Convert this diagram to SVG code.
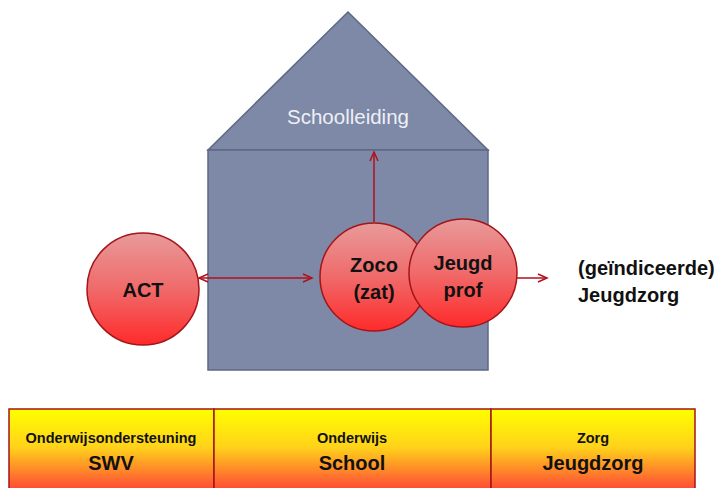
<svg xmlns="http://www.w3.org/2000/svg" width="721" height="488" viewBox="0 0 721 488">
<defs>
<linearGradient id="gc" x1="0" y1="0" x2="0" y2="1">
<stop offset="0" stop-color="#e89a9a"/>
<stop offset="0.5" stop-color="#f06a6a"/>
<stop offset="1" stop-color="#ff2a2a"/>
</linearGradient>
<linearGradient id="gb" x1="0" y1="0" x2="0" y2="1">
<stop offset="0" stop-color="#ffff00"/>
<stop offset="0.45" stop-color="#ffd21a"/>
<stop offset="1" stop-color="#ff3a3a"/>
</linearGradient>
<marker id="ah" markerWidth="12" markerHeight="12" refX="10" refY="5" orient="auto-start-reverse" markerUnits="userSpaceOnUse">
<path d="M1,1 L10,5 L1,9" fill="none" stroke="#b0121b" stroke-width="1.5"/>
</marker>
<style>
.house{fill:#7d89a6;stroke:#5d6884;stroke-width:1.5}
.circ{fill:url(#gc);stroke:#a3151b;stroke-width:1.5}
.ct{font-family:"Liberation Sans",Arial,sans-serif;font-weight:bold;font-size:20px;fill:#111;text-anchor:middle}
.conn{stroke:#b0121b;stroke-width:1.5;fill:none}
.bar{fill:url(#gb);stroke:#a3151b;stroke-width:1.5}
.bs{font-family:"Liberation Sans",Arial,sans-serif;font-weight:bold;font-size:14.5px;fill:#111;text-anchor:middle}
.bl{font-family:"Liberation Sans",Arial,sans-serif;font-weight:bold;font-size:20px;fill:#111;text-anchor:middle}
.side{font-family:"Liberation Sans",Arial,sans-serif;font-weight:bold;font-size:20px;fill:#111}
</style>
</defs>
<g id="house">
<polygon class="house" points="348,12 488,150 208,150"/>
<rect class="house" x="208" y="150" width="280" height="220"/>
<text x="348" y="124" font-family="'Liberation Sans',Arial,sans-serif" font-size="20.5" fill="#eef0f6" text-anchor="middle">Schoolleiding</text>
</g>
<g id="connectors">
<line class="conn" x1="199" y1="278" x2="312" y2="278" marker-start="url(#ah)" marker-end="url(#ah)"/>
<line class="conn" x1="374" y1="222" x2="374" y2="152" marker-end="url(#ah)"/>
<line class="conn" x1="517" y1="278" x2="547" y2="278" marker-end="url(#ah)"/>
</g>
<g id="act">
<circle class="circ" cx="143" cy="289" r="56"/>
<text class="ct" x="143" y="297">ACT</text>
</g>
<g id="zoco">
<circle class="circ" cx="374" cy="277" r="54"/>
<text class="ct" x="374" y="272">Zoco</text>
<text class="ct" x="374" y="299">(zat)</text>
</g>
<g id="jeugdprof">
<circle class="circ" cx="463" cy="273" r="54"/>
<text class="ct" x="463" y="270">Jeugd</text>
<text class="ct" x="463" y="297">prof</text>
</g>
<g id="jeugdzorg-label">
<text class="side" x="578" y="275">(geïndiceerde)</text>
<text class="side" x="578" y="302">Jeugdzorg</text>
</g>
<g id="bar-swv">
<rect class="bar" x="9" y="409" width="205" height="85"/>
<text class="bs" x="111" y="443">Onderwijsondersteuning</text>
<text class="bl" x="111" y="470">SWV</text>
</g>
<g id="bar-school">
<rect class="bar" x="214" y="409" width="277" height="85"/>
<text class="bs" x="352" y="443">Onderwijs</text>
<text class="bl" x="352" y="470">School</text>
</g>
<g id="bar-zorg">
<rect class="bar" x="491" y="409" width="204" height="85"/>
<text class="bs" x="593" y="443">Zorg</text>
<text class="bl" x="593" y="470">Jeugdzorg</text>
</g>
</svg>
